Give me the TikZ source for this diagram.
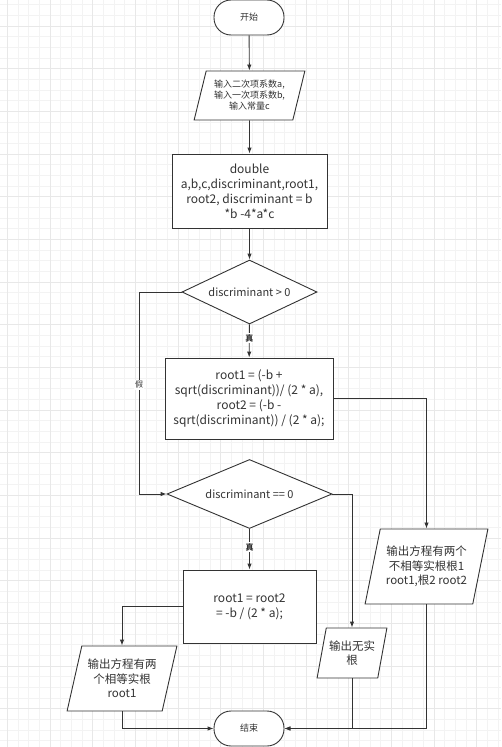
\documentclass[tikz,border=0pt]{standalone}
\usepackage{fontspec}
\setmainfont{Noto Sans CJK SC}
\usetikzlibrary{shapes.geometric,arrows.meta}
\definecolor{linegray}{HTML}{333333}
\definecolor{gridminor}{HTML}{F3F3F3}
\definecolor{gridmajor}{HTML}{E8E8E8}

\begin{document}
\begin{tikzpicture}
[x=1pt,y=-1pt,
  termdecorate/.style={shape=rectangle,rounded corners=17pt,draw=linegray,line width=0.9pt,%
    fill=white,text=linegray,minimum width=70pt,minimum height=35pt,inner sep=0pt,%
    font=\fontsize{9}{11}\selectfont},%
  procdecorate/.style={shape=rectangle,draw=linegray,line width=0.9pt,fill=white,%
    text=linegray,inner sep=0pt,align=center,font=\fontsize{12}{15}\selectfont},%
  decidedecorate/.style={shape=diamond,shape aspect=2.2,draw=linegray,line width=0.9pt,%
    fill=white,text=linegray,inner sep=0pt,font=\fontsize{11}{13}\selectfont},%
  iodecorate/.style={shape=trapezium,trapezium left angle=72,trapezium right angle=108,%
    trapezium stretches=true,draw=linegray,line width=0.9pt,fill=white,text=linegray,%
    inner sep=0pt,align=center,font=\fontsize{11.5}{14.5}\selectfont},%
  linedecorate/.style={-{Latex[length=6pt,width=4.5pt]},draw=linegray,line width=0.9pt},%
  branchlabel/.style={fill=white,text=linegray,inner sep=1pt,font=\fontsize{8}{8}\selectfont}]
\useasboundingbox (0,0) rectangle (501,747);
\fill[white] (0,0) rectangle (501,747);
%% grid
\foreach \k in {0,...,46}
  \draw[gridminor,line width=0.8pt] ({7.33+10.667*\k},0) -- ++(0,747);
\foreach \k in {0,...,69}
  \draw[gridminor,line width=0.8pt] (0,{4.67+10.667*\k}) -- ++(501,0);
\foreach \k in {0,...,11}
  \draw[gridmajor,line width=0.8pt] ({7.33+42.667*\k},0) -- ++(0,747);
\foreach \k in {0,...,17}
  \draw[gridmajor,line width=0.8pt] (0,{26+42.667*\k}) -- ++(501,0);
%% nodes
\node (start) at (249,17.5) [termdecorate] {开始};
\node (input) at (249.5,95.5) [iodecorate,minimum width=111pt,minimum height=49pt,%
  font=\fontsize{9}{11}\selectfont] {输入二次项系数a,\\输入一次项系数b,\\输入常量c};
\node (init) at (249.5,191) [procdecorate,minimum width=155pt,minimum height=74pt]
  {double\\a,b,c,discriminant,root1,\\root2, discriminant = b\\*b -4*a*c};
\node (gtzero) at (249.5,292) [decidedecorate,minimum width=135pt,minimum height=64pt]
  {discriminant > 0};
\node (rootsdiff) at (249,398.5) [procdecorate,minimum width=168pt,minimum height=81pt]
  {root1 = (-b +\\sqrt(discriminant))/ (2 * a),\\root2 = (-b -\\sqrt(discriminant)) / (2 * a);};
\node (eqzero) at (249.5,494) [decidedecorate,minimum width=165pt,minimum height=69pt]
  {discriminant == 0};
\node (rootsame) at (249.5,606.5) [procdecorate,minimum width=133pt,minimum height=73pt]
  {root1 = root2\\ = -b / (2 * a);};
\node (diffpara) at (426.5,566.5) [iodecorate,minimum width=123pt,minimum height=75pt]
  {输出方程有两个\\不相等实根根1\\root1,根2 root2};
\node (samepara) at (122,678.5) [iodecorate,minimum width=110pt,minimum height=65pt]
  {输出方程有两\\个相等实根\\root1};
\node (nonepara) at (352,653) [iodecorate,minimum width=70pt,minimum height=50pt]
  {输出无实\\根};
\node (stop) at (249,728.5) [termdecorate] {结束};
\coordinate (falseturn) at (139,292);
%% edges
\path
\foreach \startnode/\endnode in {start/input, input/init, init/gtzero} {
  (\startnode) edge[linedecorate] (\endnode)
};
\path (gtzero) edge[linedecorate] node[branchlabel,pos=0.42,font=\fontsize{8}{8}\selectfont\bfseries] {真} (rootsdiff);
\path (eqzero) edge[linedecorate] node[branchlabel,pos=0.45,font=\fontsize{8}{8}\selectfont\bfseries] {真} (rootsame);
\draw[linedecorate] (gtzero.west) -- (falseturn) |- node[branchlabel,pos=0.23] {假} (eqzero.west);
\draw[linedecorate] (rootsdiff.east) -| (diffpara);
\draw[linedecorate] (eqzero.east) -| (nonepara);
\draw[linedecorate] (rootsame.west) -| (samepara);
\foreach \endnode in {samepara, nonepara, diffpara}
  \draw[linedecorate] (\endnode) |- (stop);
\end{tikzpicture}
\end{document}
